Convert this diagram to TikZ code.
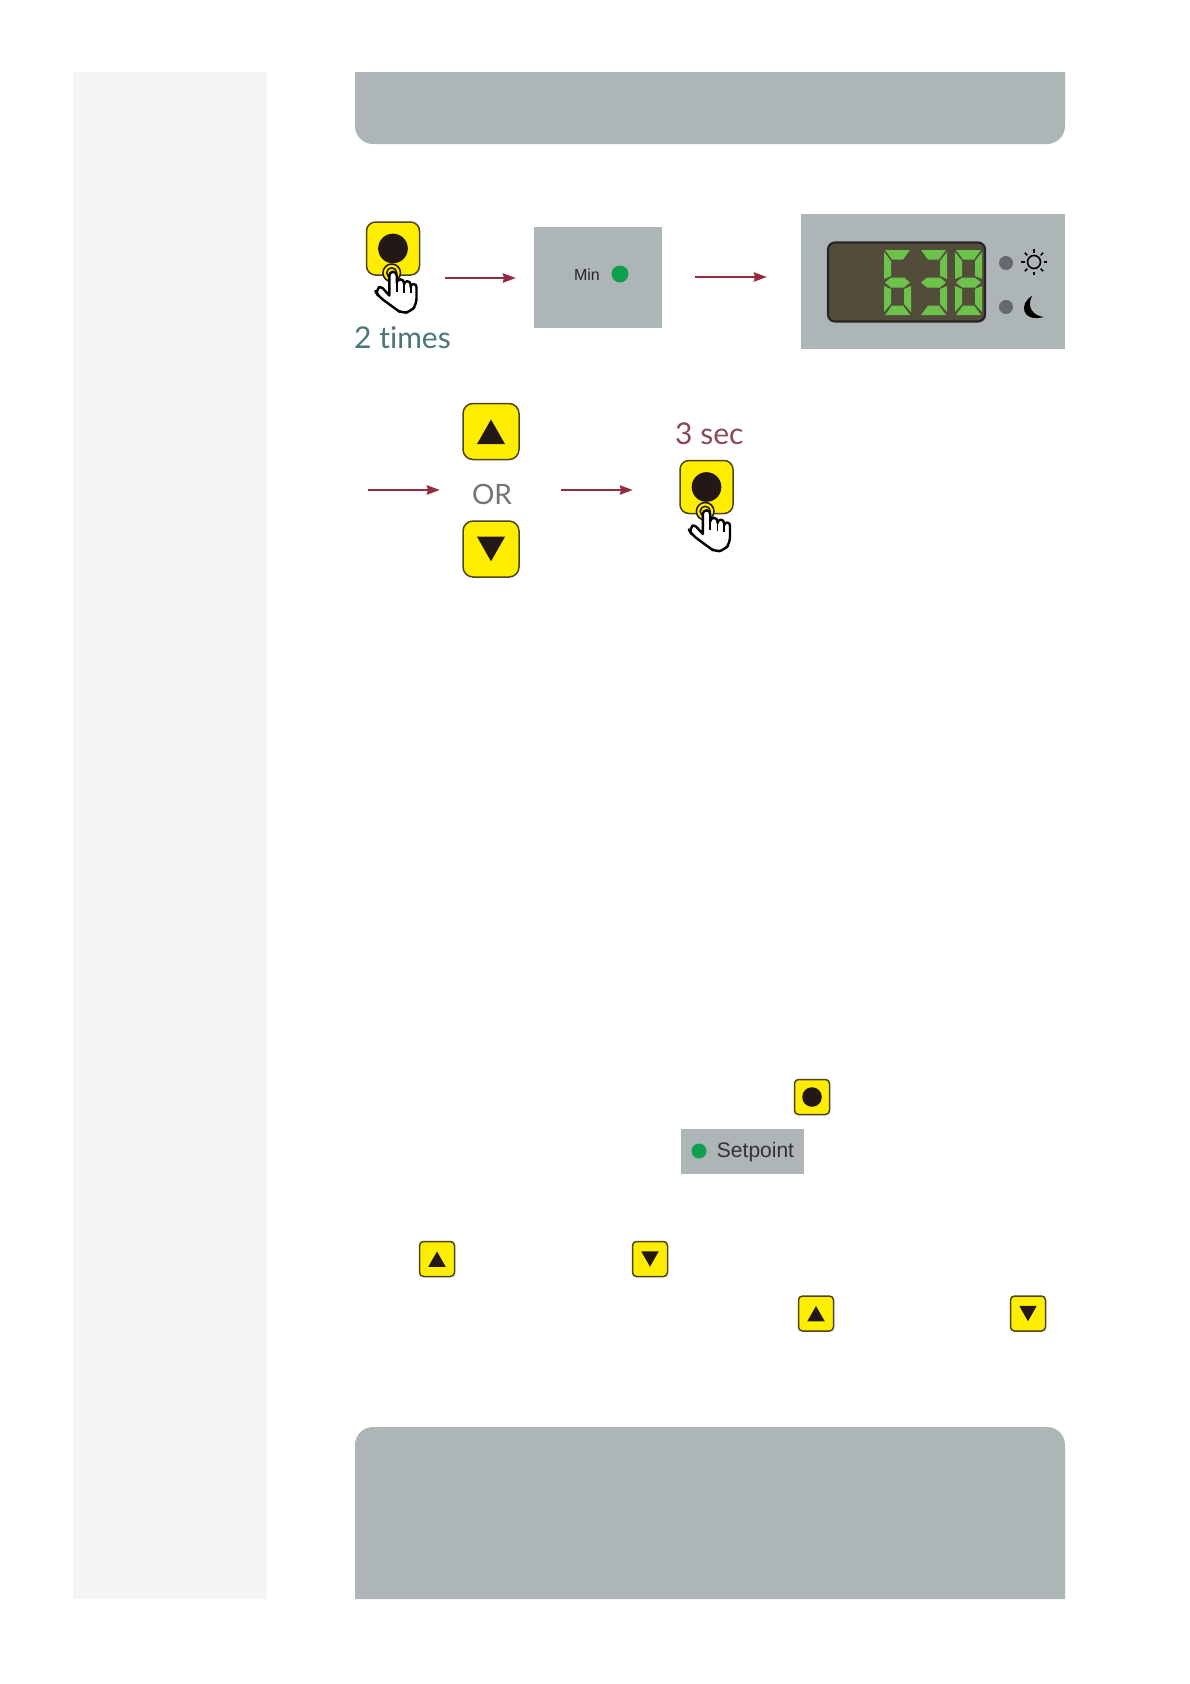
\documentclass[tikz,border=0pt]{standalone}
\usepackage{fontspec}
\setmainfont{Liberation Sans}
\newfontfamily\lato[Ligatures=NoCommon]{Lato}
\usetikzlibrary{arrows.meta}
\definecolor{slate}{HTML}{AEB5B7}
\definecolor{sidegray}{HTML}{F5F5F5}
\definecolor{keyyellow}{HTML}{FFEE00}
\definecolor{keyedge}{HTML}{4F4420}
\definecolor{keydark}{HTML}{231815}
\definecolor{wine}{HTML}{932C3F}
\definecolor{ledgreen}{HTML}{0FA04F}
\definecolor{lcdback}{HTML}{524C3A}
\definecolor{lcdgreen}{HTML}{6CC24A}
\definecolor{dotgray}{HTML}{666A6C}
\tikzset{
  panelbox/.style={fill=slate,inner sep=0pt,outer sep=0pt},
  keybox/.style={fill=keyyellow,draw=keyedge,line width=1.5pt,rounded corners=#1,inner sep=0pt,outer sep=0pt},
  flow/.style={wine,line width=2.8pt,-{Stealth[length=13pt,width=9pt,inset=1pt]}},
  latolabel/.style={font=\lato\fontsize{30}{34}\selectfont,inner sep=0pt,anchor=base west},
}
\newcommand{\roundkey}[5]{\node[keybox=#5,minimum size=#4pt] (#1) at (#2,#3) {};
\fill[keydark] (#1) circle[radius=#4*0.28];}
\newcommand{\upkey}[5]{\node[keybox=#5,minimum size=#4pt] (#1) at (#2,#3) {};
\fill[keydark] (#2,#3) ++(0,-#4*0.215) -- ++(#4*0.25,#4*0.44) -- ++(-#4*0.5,0) -- cycle;}
\newcommand{\downkey}[5]{\node[keybox=#5,minimum size=#4pt] (#1) at (#2,#3) {};
\fill[keydark] (#2,#3) ++(0,#4*0.22) -- ++(#4*0.25,-#4*0.44) -- ++(-#4*0.5,0) -- cycle;}
% press mark and hand under a key
\newcommand{\handicon}[2]{\begin{scope}[shift={(#1,#2)}]
\draw[keydark,line width=1.5pt,fill=keyyellow] (-1.3,24.3) circle[radius=8.8];
\draw[keydark,line width=1.5pt] (-1.3,24.3) circle[radius=5];
\draw[black,line width=2.4pt,fill=white,line join=round]
 (-3.7,47)--(-3.7,27) arc[start angle=180,end angle=360,radius=3.7]--(3.7,34.5)
 arc[start angle=180,end angle=360,radius=3.65]--(11,36)
 arc[start angle=180,end angle=360,radius=3.3]--(17.6,38.5)
 arc[start angle=180,end angle=360,radius=2.95]
 {[rounded corners=6pt] --(23.5,56)--(18,63)--(9,65)--(2,60)--(-14.7,47.7)--(-18,42)} {[rounded corners=3pt] --(-12.3,37.5)}--cycle;
\draw[black,line width=1.8pt] (3.7,34.5)--(3.7,43) (11,36)--(11,44) (17.6,38.5)--(17.6,44.5);
\end{scope}}
\newcommand{\sega}{\fill[lcdgreen] (1,0)--(26,0)--(19,9.5)--(8,9.5)--cycle;}
\newcommand{\segb}{\fill[lcdgreen] (27,2)--(27,29)--(20,26)--(20,11)--cycle;}
\newcommand{\segc}{\fill[lcdgreen] (27,36)--(27,62)--(20,54)--(20,39)--cycle;}
\newcommand{\segd}{\fill[lcdgreen] (1,65)--(8,55.5)--(19,55.5)--(26,65)--cycle;}
\newcommand{\sege}{\fill[lcdgreen] (0,36)--(7,39)--(7,54)--(0,62)--cycle;}
\newcommand{\segf}{\fill[lcdgreen] (0,2)--(7,11)--(7,26)--(0,29)--cycle;}
\newcommand{\segg}{\fill[lcdgreen] (7,27.5)--(20,27.5)--(26,32.5)--(20,37.5)--(7,37.5)--(1,32.5)--cycle;}
\newcommand{\lcddigit}[2]{\begin{scope}[shift={(#1,250)}]
\foreach \s in {#2}{\csname seg\s\endcsname}
\end{scope}}

\begin{document}
\begin{tikzpicture}[x=1pt,y=-1pt]
\useasboundingbox (0,0) rectangle (1190,1684);
\fill[sidegray] (73,72) rectangle (267,1599);
\fill[slate] (355,72)--(1065,72) {[rounded corners=18pt] --(1065,144)--(355,144)} --cycle;
\fill[slate] (355,1599) {[rounded corners=18pt] --(355,1427)--(1065,1427)} --(1065,1599)--cycle;
% first row
\roundkey{okA}{393}{248.5}{53}{9pt}
\handicon{393}{248.5}
\node[latolabel,text=black!20!teal!40!gray] (timesA) at (354,348) {2 times};
\node[panelbox,minimum width=128pt,minimum height=101pt] (minA) at (598,277) {};
\node[font=\fontsize{16}{18}\selectfont,text=black!85] (minT) at (587,275) {Min};
\fill[ledgreen] (620,274) circle[radius=8.5];
\node[panelbox,minimum width=264pt,minimum height=135pt] (dispA) at (933,281.5) {};
\node[fill=lcdback,draw=black!85,line width=2.2pt,rounded corners=7pt,minimum width=157pt,minimum height=79pt,inner sep=0pt] (lcdA) at (906.5,282) {};
\lcddigit{884}{a,f,g,e,c,d}
\lcddigit{920}{a,b,g,c,d}
\lcddigit{955}{a,b,c,d,e,f,g}
\fill[dotgray] (1006,263) circle[radius=7];
\fill[dotgray] (1006,307) circle[radius=7];
\draw[black,line width=1.6pt] (1034,262) circle[radius=6.5];
\foreach \a in {0,45,...,315}{\draw[black,line width=1.6pt] (1034,262) ++(\a:9.5) -- ++(\a:3.5);}
\fill[black] (1032,296) .. controls (1019,303) and (1021,323) .. (1044,317) .. controls (1034,316) and (1026,308) .. (1032,296) -- cycle;
\coordinate (arrAs) at (445,278);\coordinate (arrAe) at (516,278);
\coordinate (arrBs) at (695,277);\coordinate (arrBe) at (767,277);
\draw[flow] (arrAs)--(arrAe);
\draw[flow] (arrBs)--(arrBe);
% second row
\coordinate (arrCs) at (368,490);\coordinate (arrCe) at (440,490);
\coordinate (arrDs) at (561,490);\coordinate (arrDe) at (633,490);
\draw[flow] (arrCs)--(arrCe);
\draw[flow] (arrDs)--(arrDe);
\upkey{upA}{491}{431.5}{56}{10pt}
\downkey{downA}{491}{549}{56}{10pt}
\node[font=\lato\fontsize{28}{32}\selectfont,text=black!55,inner sep=0pt] (orA) at (492,494.5) {OR};
\node[latolabel,text=wine!65!gray] (secA) at (675,444) {3 sec};
\roundkey{okB}{706.5}{487}{53}{9pt}
\handicon{706.5}{487}
% small keys in the text
\roundkey{okC}{812}{1097}{35}{4pt}
\node[panelbox,minimum width=123pt,minimum height=45pt] (setA) at (742.5,1151.5) {};
\fill[ledgreen] (699,1151) circle[radius=7.5];
\node[font=\fontsize{21}{24}\selectfont,text=black!80,inner sep=0pt] (setT) at (755.5,1152) {Setpoint};
\upkey{upB}{437}{1259}{35}{4pt}
\downkey{downB}{650}{1259}{35}{4pt}
\upkey{upC}{816}{1313.5}{35}{4pt}
\downkey{downC}{1028}{1313.5}{35}{4pt}
\end{tikzpicture}
\end{document}
